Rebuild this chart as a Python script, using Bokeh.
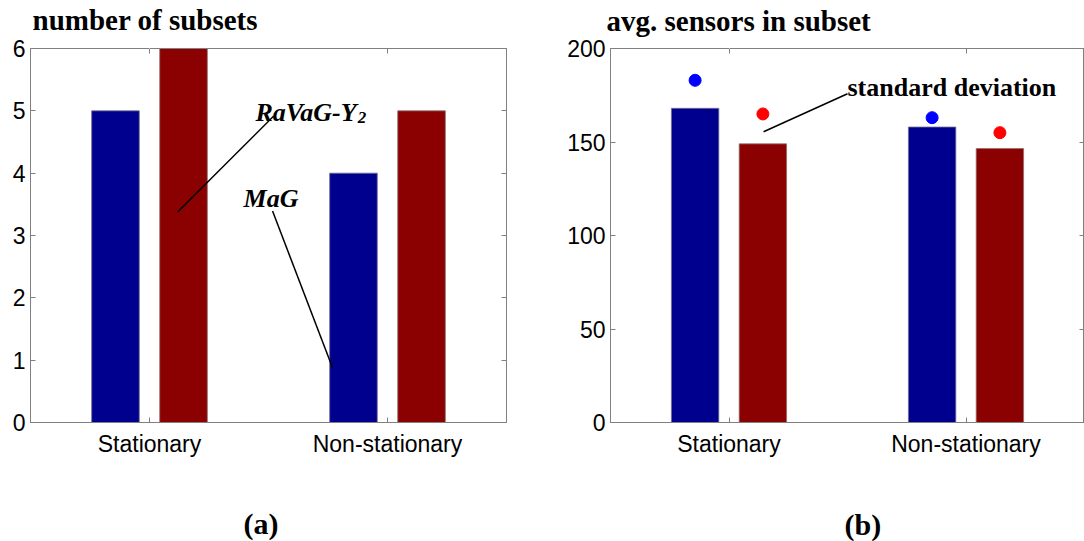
from bokeh.plotting import figure
from bokeh.models import Range1d, FixedTicker, LinearAxis, Label, Title
from bokeh.layouts import row
from bokeh.embed import file_html
from bokeh.resources import INLINE

# ---------------- data ----------------
categories = ["Stationary", "Non-stationary"]
series_names = ["MaG", "RaVaG-Y2"]
subsets_mag = [5, 4]
subsets_ravag = [6, 5]
sensors_mag = [168, 158]
sensors_ravag = [149, 146.5]
std_mag = [183, 163]
std_ravag = [165, 155]
left_yticks = [0, 1, 2, 3, 4, 5, 6]
right_yticks = [0, 50, 100, 150, 200]

BLUE = "#00008F"
RED = "#8B0000"
GRAY = "#808080"
SANS = "Liberation Sans"
SERIF = "Liberation Serif"

xs = [i + 1 for i in range(len(categories))]
OFF = 0.143
BW = 0.2


def spacer_axis(size):
    # invisible axis that only reserves vertical space
    ax = LinearAxis(ticker=FixedTicker(ticks=[xs[0]]))
    ax.major_label_overrides = {xs[0]: ""}
    ax.major_tick_out = size
    ax.major_tick_in = 0
    ax.major_label_standoff = 0
    ax.axis_line_color = None
    ax.major_tick_line_color = "white"
    ax.minor_tick_line_color = None
    return ax


def make_fig(width, ymax, yticks, mbl, mbr, mbt, mbb, title, title_off, top_gap,
             sub, sub_off, bottom_gap):
    p = figure(width=width, height=541, output_backend="svg", toolbar_location=None,
               x_range=Range1d(0.5, len(categories) + 0.5), y_range=Range1d(0, ymax),
               min_border_left=mbl, min_border_right=mbr, min_border_top=mbt,
               min_border_bottom=mbb, title=None)
    p.xgrid.visible = False
    p.ygrid.visible = False
    p.outline_line_color = GRAY
    p.outline_line_width = 1
    p.background_fill_color = "white"
    p.border_fill_color = "white"

    xa = p.xaxis[0]
    xa.ticker = FixedTicker(ticks=xs)
    xa.major_label_overrides = {x: c for x, c in zip(xs, categories)}
    ya = p.yaxis[0]
    ya.ticker = FixedTicker(ticks=yticks)
    for ax in (xa, ya):
        ax.axis_line_color = GRAY
        ax.major_tick_line_color = GRAY
        ax.major_tick_in = 5
        ax.major_tick_out = 0
        ax.minor_tick_line_color = None
        ax.major_label_text_font = SANS
        ax.major_label_text_font_size = "23px"
        ax.major_label_text_color = "black"
    xa.major_label_standoff = 8
    ya.major_label_standoff = 5

    top = LinearAxis(ticker=FixedTicker(ticks=xs))
    top.major_label_overrides = {x: "" for x in xs}
    right = LinearAxis(ticker=FixedTicker(ticks=yticks))
    right.major_label_overrides = {t: "" for t in yticks}
    for ax in (top, right):
        ax.axis_line_color = GRAY
        ax.major_tick_line_color = GRAY
        ax.major_tick_in = 5
        ax.major_tick_out = 0
        ax.minor_tick_line_color = None
        ax.major_label_standoff = 0
    p.add_layout(top, "above")
    p.add_layout(right, "right")

    # title above, pushed up by a spacer
    p.add_layout(spacer_axis(top_gap), "above")
    p.add_layout(Title(text=title, align="left", offset=title_off, text_font=SERIF,
                       text_font_style="bold", text_font_size="29px",
                       text_color="black", standoff=0), "above")

    # panel letter below, pushed down by a spacer
    p.add_layout(spacer_axis(bottom_gap), "below")
    p.add_layout(Title(text=sub, align="left", offset=sub_off, text_font=SERIF,
                       text_font_style="bold", text_font_size="30px",
                       text_color="black", standoff=0), "below")
    return p


# ---------------- panel (a) ----------------
p1 = make_fig(540, 6, left_yticks, 30, 34, 48, 118, "number of subsets", 2, 13,
              "(a)", 213, 45)
p1.vbar(x=[x - OFF for x in xs], top=subsets_mag, width=BW, bottom=0,
        fill_color=BLUE, line_color="#6f6f8f", line_width=0.8)
p1.vbar(x=[x + OFF for x in xs], top=subsets_ravag, width=BW, bottom=0,
        fill_color=RED, line_color="#8f6f6f", line_width=0.8)

# RaVaG-Y2 annotation
p1.add_layout(Label(x=1.445, y=4.976, text="RaVaG-Y", text_font=SERIF,
                    text_font_style="bold italic", text_font_size="26px",
                    text_color="black", text_baseline="alphabetic"))
p1.add_layout(Label(x=1.875, y=4.90, text="2", text_font=SERIF,
                    text_font_style="bold italic", text_font_size="17px",
                    text_color="black", text_baseline="alphabetic"))
p1.line(x=[1.521, 1.118], y=[4.912, 3.376], line_color="black", line_width=1.5)
# MaG annotation
p1.add_layout(Label(x=1.395, y=3.6, text="MaG", text_font=SERIF,
                    text_font_style="bold italic", text_font_size="26px",
                    text_color="black", text_baseline="alphabetic"))
p1.line(x=[1.517, 1.769], y=[3.392, 0.88], line_color="black", line_width=1.5)

# ---------------- panel (b) ----------------
p2 = make_fig(544, 200, right_yticks, 70, 0, 47, 119, "avg. sensors in subset", -4, 12,
              "(b)", 234, 46)
p2.vbar(x=[x - OFF for x in xs], top=sensors_mag, width=BW, bottom=0,
        fill_color=BLUE, line_color="#6f6f8f", line_width=0.8)
p2.vbar(x=[x + OFF for x in xs], top=sensors_ravag, width=BW, bottom=0,
        fill_color=RED, line_color="#8f6f6f", line_width=0.8)
p2.scatter(x=[x - OFF for x in xs], y=std_mag, size=12, fill_color="#0000FF",
           line_color="#0000FF")
p2.scatter(x=[x + OFF for x in xs], y=std_ravag, size=12, fill_color="#FF0000",
           line_color="#FF0000")

p2.add_layout(Label(x=1.5, y=179, text="standard deviation", text_font=SERIF,
                    text_font_style="bold", text_font_size="26px",
                    text_color="black", text_baseline="alphabetic"))
p2.line(x=[1.5, 1.146], y=[175.8, 155.5], line_color="black", line_width=1.5)

layout = row(p1, p2)
open("out.html", "w").write(file_html(layout, INLINE))
